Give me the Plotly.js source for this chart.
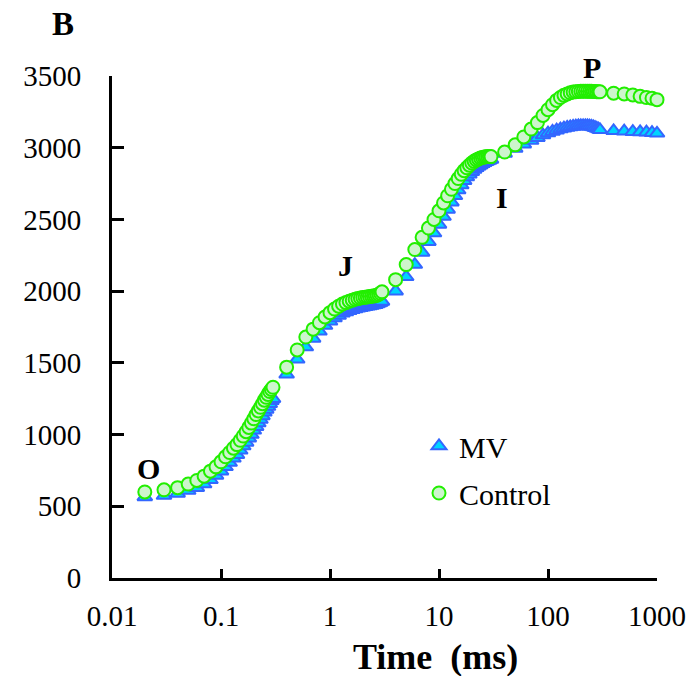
<!DOCTYPE html>
<html>
<head>
<meta charset="utf-8">
<script src="https://cdn.plot.ly/plotly-3.0.1.min.js"></script>
<style>html,body{margin:0;padding:0;background:#fff;}#chart{width:699px;height:676px;}</style>
</head>
<body>
<div id="chart"></div>
<script>
// Time (ms)
const timeMs = [
  0.02,0.03,0.04,0.05,0.06,0.07,0.08,0.09,0.1,0.11,0.12,0.13,0.14,0.15,0.16,0.17,0.18,0.19,0.2,0.21,0.22,0.23,0.24,0.25,0.26,0.27,0.28,0.29,0.3,
  0.4,0.5,0.6,0.7,0.8,0.9,1,1.1,1.2,1.3,1.4,1.5,1.6,1.7,1.8,1.9,2,2.1,2.2,2.3,2.4,2.5,2.6,2.7,2.8,2.9,3,
  4,5,6,7,8,9,10,11,12,13,14,15,16,17,18,19,20,21,22,23,24,25,26,27,28,29,30,
  40,50,60,70,80,90,100,110,120,130,140,150,160,170,180,190,200,210,220,230,240,250,260,270,280,290,300,
  400,500,600,700,800,900,1000
];
const mvValues = [
  565,575,590,610,630,655,685,715,745,775,805,835,860,890,920,945,975,1000,1030,1055,1080,1105,1130,1155,1175,1195,1215,1235,1250,
  1420,1525,1610,1670,1720,1760,1790,1812,1830,1845,1855,1863,1870,1876,1880,1884,1888,1891,1894,1897,1900,1903,1906,1910,1915,1920,1928,
  2000,2100,2185,2270,2345,2405,2465,2520,2570,2620,2665,2705,2740,2770,2795,2815,2833,2848,2860,2870,2880,2888,2895,2902,2908,2913,2918,
  2960,2995,3025,3050,3070,3088,3102,3113,3122,3130,3136,3141,3145,3148,3150,3152,3153,3153,3153,3152,3150,3148,3145,3140,3135,3130,3125,
  3118,3115,3112,3110,3108,3105,3100
];
const controlValues = [
  600,615,630,655,680,710,745,775,810,845,875,905,930,960,990,1020,1050,1080,1110,1140,1165,1190,1215,1240,1260,1280,1300,1315,1330,
  1470,1590,1680,1735,1780,1820,1850,1875,1895,1910,1920,1930,1937,1943,1948,1952,1955,1958,1960,1962,1964,1966,1968,1972,1978,1985,1995,
  2080,2185,2290,2375,2440,2500,2560,2615,2665,2710,2750,2785,2815,2840,2860,2878,2893,2905,2915,2922,2928,2932,2935,2937,2938,2938,2938,
  2970,3020,3075,3130,3175,3225,3265,3300,3330,3350,3365,3375,3383,3388,3390,3392,3393,3394,3394,3394,3393,3393,3392,3392,3391,3390,3390,
  3380,3375,3368,3358,3350,3345,3335
];
const seriesNames = ['MV', 'Control'];
const xTickVals = [0.01, 0.1, 1, 10, 100, 1000];
const xTickText = ['0.01', '0.1', '1', '10', '100', '1000'];
const yTickVals = [0, 500, 1000, 1500, 2000, 2500, 3000, 3500];
const phaseLabels = ['O', 'J', 'I', 'P'];

const FONT = '"Liberation Serif", "Times New Roman", serif';

const traces = [
  {
    x: timeMs, y: mvValues, name: seriesNames[0], type: 'scatter', mode: 'markers',
    cliponaxis: false, legendgroup: 'a',
    marker: {symbol: 'triangle-up', size: 13, color: '#00d4ff', line: {color: '#3366ff', width: 2}}
  },
  {
    x: timeMs, y: controlValues, name: seriesNames[1], type: 'scatter', mode: 'markers',
    cliponaxis: false, legendgroup: 'b',
    marker: {symbol: 'circle', size: 13, color: '#cdf5cd', line: {color: '#22ee00', width: 2}}
  }
];

const L = 112, R = 657, T = 76, B = 578;
function px(xp) { return (xp - L) / (R - L); }
function py(yp) { return (B - yp) / (B - T); }
const labelPos = [[148, 468], [345, 265], [502, 197], [592, 67]];

const annotations = phaseLabels.map((t, i) => ({
  text: '<b>' + t + '</b>', xref: 'paper', yref: 'paper',
  x: px(labelPos[i][0]), y: py(labelPos[i][1]), xanchor: 'center', yanchor: 'middle',
  showarrow: false, font: {family: FONT, size: 30, color: '#000'}
}));
annotations.push({
  text: '<b>Time  (ms)</b>', xref: 'paper', yref: 'paper',
  x: px(435), y: py(657), xanchor: 'center', yanchor: 'middle',
  showarrow: false, font: {family: FONT, size: 36, color: '#000'}
});

const layout = {
  width: 699, height: 676,
  margin: {l: L, r: 699 - R, t: T, b: 676 - B},
  paper_bgcolor: '#fff', plot_bgcolor: '#fff',
  font: {family: FONT, color: '#000'},
  title: {text: '<b>B</b>', x: 63 / 699, xanchor: 'center', y: 1 - 23 / 676, yanchor: 'middle',
          font: {family: FONT, size: 33, color: '#000'}},
  showlegend: true,
  legend: {x: px(419), y: py(420), xanchor: 'left', yanchor: 'top', tracegroupgap: 5,
           font: {family: FONT, size: 30, color: '#000'}, bgcolor: 'rgba(0,0,0,0)', itemsizing: 'trace'},
  xaxis: {
    type: 'log', range: [-2, 3], showgrid: false, zeroline: false,
    showline: true, linecolor: '#000', linewidth: 3, mirror: false,
    ticks: 'inside', ticklen: 9, tickwidth: 3, tickcolor: '#000',
    tickvals: xTickVals, ticktext: xTickText, ticklabelstandoff: 10,
    tickfont: {family: FONT, size: 29, color: '#000'}
  },
  yaxis: {
    range: [0, 3500], showgrid: false, zeroline: false,
    showline: true, linecolor: '#000', linewidth: 3,
    ticks: 'inside', ticklen: 12, tickwidth: 3, tickcolor: '#000',
    tickvals: yTickVals, ticklabelstandoff: 22,
    tickfont: {family: FONT, size: 29, color: '#000'}
  },
  annotations: annotations
};

Plotly.newPlot('chart', traces, layout, {displayModeBar: false, staticPlot: true});
</script>
</body>
</html>
